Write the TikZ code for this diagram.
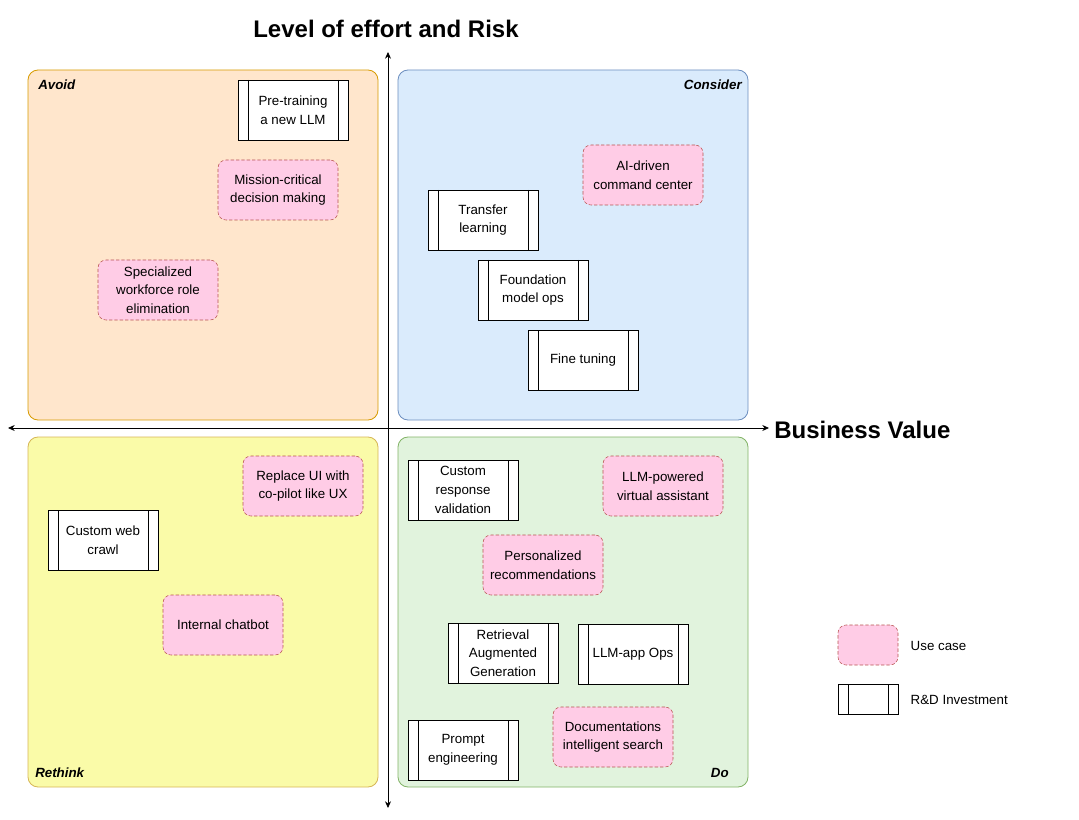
\documentclass[tikz,border=0pt]{standalone}
\usepackage{fontspec}
\setmainfont{Liberation Sans}
\usetikzlibrary{arrows.meta,positioning}

\definecolor{avoidfill}{HTML}{FFE6CC}
\definecolor{avoidline}{HTML}{D79B00}
\definecolor{considerfill}{HTML}{DAEBFC}
\definecolor{considerline}{HTML}{6C8EBF}
\definecolor{rethinkfill}{HTML}{FAFBA8}
\definecolor{rethinkline}{HTML}{D6B656}
\definecolor{dofill}{HTML}{E1F3DD}
\definecolor{doline}{HTML}{82B366}
\definecolor{usefill}{HTML}{FFCCE6}
\definecolor{useline}{HTML}{B85450}

\begin{document}
\begin{tikzpicture}[x=0.75pt,y=-0.75pt]
\tikzset{quadrant/.style={draw, rounded corners=7.5pt, minimum width=262.5pt, minimum height=262.5pt, line width=0.6pt}}
\tikzset{usecase/.style={draw=useline, fill=usefill, dashed, dash pattern=on 2.5pt off 1.5pt, rounded corners=6pt, minimum width=90pt, minimum height=45pt, align=center, font=\fontsize{10}{14}\selectfont}}
\tikzset{rdbox/.style={draw, fill=white, minimum width=82.5pt, minimum height=45pt, align=center, font=\fontsize{10}{14}\selectfont,
  path picture={\draw ([xshift=7.5pt]path picture bounding box.north west) -- ([xshift=7.5pt]path picture bounding box.south west);
                \draw ([xshift=-7.5pt]path picture bounding box.north east) -- ([xshift=-7.5pt]path picture bounding box.south east);}}}
\tikzset{qlabel/.style={font=\fontsize{10}{12}\selectfont\bfseries\itshape, inner sep=0pt}}
\tikzset{axis/.style={{Stealth[length=5pt,width=4.5pt]}-{Stealth[length=5pt,width=4.5pt]}, line width=0.6pt}}
\useasboundingbox (0,0) rectangle (1079,820);
% quadrants
\node[quadrant, fill=avoidfill, draw=avoidline] (avoid) at (203,245) {};
\node[quadrant, fill=considerfill, draw=considerline] (consider) at (573,245) {};
\node[quadrant, fill=rethinkfill, draw=rethinkline] (rethink) at (203,612) {};
\node[quadrant, fill=dofill, draw=doline] (do) at (573,612) {};
\node[qlabel, anchor=west] (avoidlbl) at (38,85) {Avoid};
\node[qlabel, anchor=east] (considerlbl) at (742,85) {Consider};
\node[qlabel, anchor=west] (rethinklbl) at (35,773) {Rethink};
\node[qlabel, anchor=east] (dolbl) at (729,773) {Do};
% axes
\coordinate (ytop) at (388,52);
\coordinate (ybot) at (388,808);
\coordinate (xleft) at (8,428);
\coordinate (xright) at (769,428);
\draw[axis] (ybot) -- (ytop);
\draw[axis] (xleft) -- (xright);
\node[font=\fontsize{18}{22}\selectfont\bfseries] (effort) at (386,29) {Level of effort and Risk};
\node[font=\fontsize{18}{22}\selectfont\bfseries, anchor=west, inner sep=0pt] (value) at (774,430) {Business Value};
% avoid
\node[rdbox] (pretrain) at (293,110) {Pre-training\\a new LLM};
\node[usecase] (mission) at (278,190) {Mission-critical\\decision making};
\node[usecase] (workforce) at (158,290) {Specialized\\workforce role\\elimination};
% consider
\node[usecase] (command) at (643,175) {AI-driven\\command center};
\node[rdbox] (transfer) at (483,220) {Transfer\\learning};
\node[rdbox] (foundation) at (533,290) {Foundation\\model ops};
\node[rdbox] (finetune) at (583,360) {Fine tuning};
% rethink
\node[usecase] (copilot) at (303,486) {Replace UI with\\co-pilot like UX};
\node[rdbox] (webcrawl) at (103,540) {Custom web\\crawl};
\node[usecase] (chatbot) at (223,625) {Internal chatbot};
% do
\node[rdbox] (validation) at (463,490) {Custom\\response\\validation};
\node[usecase] (assistant) at (663,486) {LLM-powered\\virtual assistant};
\node[usecase] (recommend) at (543,565) {Personalized\\recommendations};
\node[rdbox] (rag) at (503,653) {Retrieval\\Augmented\\Generation};
\node[rdbox] (llmops) at (633,654) {LLM-app Ops};
\node[rdbox] (prompt) at (463,750) {Prompt\\engineering};
\node[usecase] (docsearch) at (613,737) {Documentations\\intelligent search};
% legend
\node[usecase, minimum width=45pt, minimum height=30pt] (legenduse) at (868,645) {};
\node[rdbox, minimum width=45pt, minimum height=22.5pt] (legendrd) at (868,699) {};
\node[anchor=west, font=\fontsize{10}{14}\selectfont] (legendusetxt) at (906,646) {Use case};
\node[anchor=west, font=\fontsize{10}{14}\selectfont] (legendrdtxt) at (906,700) {R\&D Investment};
\end{tikzpicture}
\end{document}
